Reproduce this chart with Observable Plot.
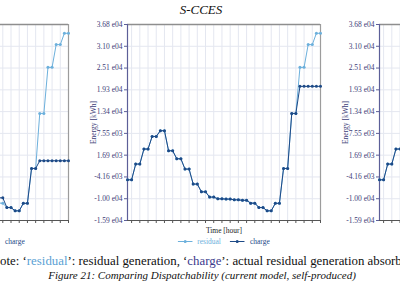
<!DOCTYPE html>
<html>
<head>
<meta charset="utf-8">
<script src="https://cdn.jsdelivr.net/npm/d3@7"></script>
<script src="https://cdn.jsdelivr.net/npm/@observablehq/plot@0.6"></script>
<style>
html, body { margin: 0; padding: 0; background: #fff; }
#root { position: relative; width: 400px; height: 284px; overflow: hidden; font-family: "Liberation Serif", serif; background: #fff; }
.panel { position: absolute; top: 0; }
.panel svg { max-width: none !important; }
.title { position: absolute; top: 2px; transform: translateX(-50%); font: italic 13px "Liberation Serif", serif; color: #111; white-space: nowrap; }
.legend { position: absolute; top: 237px; transform: translateX(-50%); display: flex; gap: 9px; align-items: center; font: 7.5px "Liberation Serif", serif; white-space: nowrap; }
.legend .item { display: flex; align-items: center; gap: 5px; }
#note { position: absolute; left: -9.2px; top: 254px; font: 12.85px "Liberation Serif", serif; color: #111; white-space: nowrap; }
#fig { position: absolute; left: 202px; top: 269px; transform: translateX(-50%); font: italic 11px "Liberation Serif", serif; color: #111; white-space: nowrap; }
.c-res { color: #5a9fd4; }
.c-chg { color: #3b3a8c; }
</style>
</head>
<body>
<div id="root"></div>
<script>
// ---- data ----
const slots = d3.range(0, 24, 0.5); // half-hour time slots [hour]
const residual = [
  -4930, -4930, -700, -700, 3340, 3340, 6730, 6730, 8270, 8270, 2880, 2880,
  730, 730, -2050, -2050, -6080, -6080, -8160, -8160, -9580, -9580, -10040, -10040,
  -10120, -10120, -10310, -10310, -10440, -10440, -11200, -11200, -12380, -12380, -13270, -13270,
  -11250, -11250, -1880, -1880, 12920, 12920, 25300, 25300, 31420, 31420, 34460, 34460
];
const chargeLeft = [
  -4930, -4930, -700, -700, 3340, 3340, 6730, 6730, 8270, 8270, 2880, 2880,
  730, 730, -2050, -2050, -6080, -6080, -8160, -8160, -9580, -9580, -10040, -10040,
  -10120, -10120, -10310, -10310, -10440, -10440, -9770, -9770, -12380, -12380, -13270, -13270,
  -11250, -11250, -1880, -1880, 190, 190, 190, 190, 190, 190, 190, 190
];
const chargeMiddle = [
  -4930, -4930, -700, -700, 3340, 3340, 6730, 6730, 8270, 8270, 2880, 2880,
  730, 730, -2050, -2050, -6080, -6080, -8160, -8160, -9580, -9580, -10040, -10040,
  -10120, -10120, -10310, -10310, -10440, -10440, -11200, -11200, -12380, -12380, -13270, -13270,
  -11250, -11250, -1880, -1880, 12920, 12920, 20190, 20190, 20190, 20190, 20190, 20190
];
const chargeRight = [
  -4930, -4930, -700, -700, 3340, 3340, 6730, 6730, 8270, 8270, 2880, 2880,
  730, 730, -2050, -2050, -6080, -6080, -8160, -8160, -9580, -9580, -10040, -10040,
  -10120, -10120, -10310, -10310, -10440, -10440, -11200, -11200, -12380, -12380, -13270, -13270,
  -11250, -11250, -1880, -1880, 12920, 12920, 20190, 20190, 20190, 20190, 20190, 20190
];
const series = ["residual", "charge"];
const seriesColors = ["#6cb0dc", "#1d4a87"];
const xDomain = [0, 23.5];
const xTicks = d3.range(0.5, 24, 1);
const yDomain = [-15870, 36825];
const yTicks = [-15870, -10015, -4160, 1695, 7550, 13405, 19260, 25115, 30970, 36825];
const yTickLabels = ["-1.59 e04", "-1.00 e04", "-4.16 e03", "1.69 e03", "7.55 e03", "1.34 e04", "1.93 e04", "2.51 e04", "3.10 e04", "3.68 e04"];
const panelTitle = "S-CCES";

// ---- layout ----
const ML = 60, MR = 1, MT = 24, MB = 20, PW = 193, H = 240;
const GRID = "#e4e7f0", AXIS = "#5c5f98", TICKTEXT = "#3e4078";
const root = document.getElementById("root");
const labelMap = new Map(yTicks.map((v, i) => [v, yTickLabels[i]]));

function makePanel(chargeValues, axisLeft, opts) {
  const rows = series.flatMap(s => slots.map((t, i) => ({
    t, series: s, value: s === "residual" ? residual[i] : chargeValues[i]
  })));
  const marks = [
    Plot.gridX(xTicks, {stroke: GRID, strokeOpacity: 1}),
    Plot.gridY(yTicks, {stroke: GRID, strokeOpacity: 1}),
    Plot.ruleY([yDomain[1]], {stroke: "#8e8e8e", strokeWidth: 1.6}),
    Plot.ruleX([xDomain[1]], {stroke: "#9c9c9c", strokeWidth: 1.2})
  ];
  if (opts.yAxis) {
    marks.push(Plot.axisY(yTicks, {tickFormat: d => labelMap.get(d), tickSize: 3, tickPadding: 2, stroke: AXIS, fill: TICKTEXT,
      label: "Energy [kWh]", labelAnchor: "center", labelOffset: 37, labelArrow: "none"}));
  } else {
    marks.push(Plot.axisY(yTicks, {tickFormat: () => "", tickSize: 3, stroke: AXIS, label: null}));
  }
  marks.push(
    Plot.ruleX([xDomain[0]], {stroke: AXIS, strokeWidth: 1.2}),
    Plot.axisX(xTicks, {tickFormat: () => "", tickSize: 3, stroke: "#555", fill: "#222",
      label: opts.xLabel ? "Time [hour]" : null, labelAnchor: "center", labelOffset: 12, labelArrow: "none"}),
    Plot.ruleY([yDomain[0]], {stroke: "#555", strokeWidth: 1}),
    ...series.flatMap(s => [
      Plot.line(rows.filter(r => r.series === s), {x: "t", y: "value", stroke: "series", strokeWidth: 1}),
      Plot.dot(rows.filter(r => r.series === s), {x: "t", y: "value", fill: "series", r: 1.5})
    ])
  );
  const svg = Plot.plot({
    width: ML + PW + MR, height: H,
    marginLeft: ML, marginRight: MR, marginTop: MT, marginBottom: MB,
    style: {fontFamily: '"Liberation Serif", serif', fontSize: "7.5px", background: "transparent", overflow: "visible", maxWidth: "none"},
    x: {domain: xDomain},
    y: {domain: yDomain},
    color: {domain: series, range: seriesColors},
    marks
  });
  const wrap = document.createElement("div");
  wrap.className = "panel";
  wrap.style.left = (axisLeft - ML) + "px";
  wrap.appendChild(svg);
  root.appendChild(wrap);

  // legend under each panel
  if (opts.legend) {
    const lg = document.createElement("div");
    lg.className = "legend";
    lg.style.left = (axisLeft + PW / 2 + (opts.legendShift || 0)) + "px";
    const textColors = {residual: "#6cb0dc", charge: "#1d4a87"};
    lg.innerHTML = series.map((s, i) =>
      `<span class="item"><svg width="15" height="5"><line x1="0" x2="15" y1="2.5" y2="2.5" stroke="${seriesColors[i]}" stroke-width="1"/><circle cx="7.5" cy="2.5" r="1.5" fill="${seriesColors[i]}"/></svg><span style="color:${textColors[s]}">${s}</span></span>`
    ).join("");
    root.appendChild(lg);
  }

  if (opts.title) {
    const tt = document.createElement("div");
    tt.className = "title";
    tt.style.left = "201px";
    tt.textContent = opts.title;
    root.appendChild(tt);
  }
}

makePanel(chargeLeft, -125, {yAxis: false, xLabel: false, legend: true, legendShift: 7});
makePanel(chargeMiddle, 127, {yAxis: true, xLabel: true, legend: true, title: panelTitle});
makePanel(chargeRight, 379, {yAxis: true, xLabel: false, legend: false});

const note = document.createElement("div");
note.id = "note";
note.innerHTML = 'Note: ‘<span class="c-res">residual</span>’: residual generation, ‘<span class="c-chg">charge</span>’: actual residual generation absorbed';
root.appendChild(note);
const fig = document.createElement("div");
fig.id = "fig";
fig.textContent = "Figure 21: Comparing Dispatchability (current model, self-produced)";
root.appendChild(fig);
</script>
</body>
</html>
